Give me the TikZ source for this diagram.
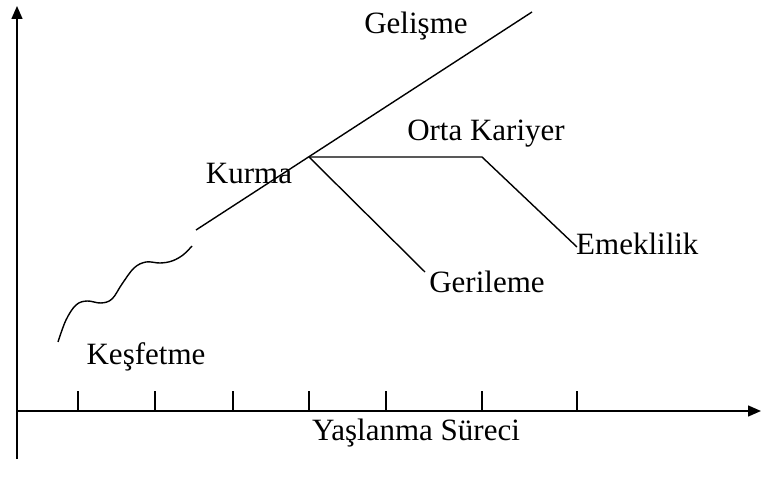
\documentclass[tikz,border=0pt]{standalone}
\usepackage{fontspec}
\setmainfont{Liberation Serif}
\usetikzlibrary{arrows.meta}
\begin{document}
\begin{tikzpicture}[x=1pt,y=-1pt,
  lbl/.style={font=\fontsize{31}{31}\selectfont, inner sep=0pt},
  ln/.style={line width=1.4pt},
  axisarrow/.style={line width=1.4pt,-{Triangle[length=13pt,width=11pt]}}]
\useasboundingbox (0,0) rectangle (761,489);
% axes
\coordinate (ybot) at (17,459);
\coordinate (ytop) at (17,6);
\coordinate (xleft) at (17,411);
\coordinate (xright) at (761,411);
\draw[axisarrow] (ybot) -- (ytop);
\draw[axisarrow] (xleft) -- (xright);
% ticks
\foreach \x [count=\i] in {78,155,233,309,386,482,577}{
  \coordinate (t\i a) at (\x,411);
  \coordinate (t\i b) at (\x,391);
  \draw[ln] (t\i a) -- (t\i b);
}
% wavy
\draw[ln] plot[smooth,tension=0.6] coordinates {(58,342) (66,320) (76,305) (87,301) (101,303) (112,299) (122,284) (134,268) (146,262) (160,263) (172,261) (183,255) (192,246)};
% main line
\coordinate (m0) at (196,230);
\coordinate (k) at (309,157);
\coordinate (m1) at (532,12);
\coordinate (oc) at (482,157);
\coordinate (em) at (577,247);
\coordinate (ge) at (425,272);
\draw[ln] (m0) -- (m1);
\draw[ln] (k) -- (oc) -- (em);
\draw[ln] (k) -- (ge);
% labels
\node[lbl] (gelisme) at (416,26) {Gelişme};
\node[lbl] (orta) at (486,134) {Orta Kariyer};
\node[lbl] (kurma) at (249,174) {Kurma};
\node[lbl,anchor=west] (emek) at (576,244) {Emeklilik};
\node[lbl] (geril) at (487,282) {Gerileme};
\node[lbl] (kesf) at (146,357) {Keşfetme};
\node[lbl] (yas) at (416,433) {Yaşlanma Süreci};
\end{tikzpicture}
\end{document}
